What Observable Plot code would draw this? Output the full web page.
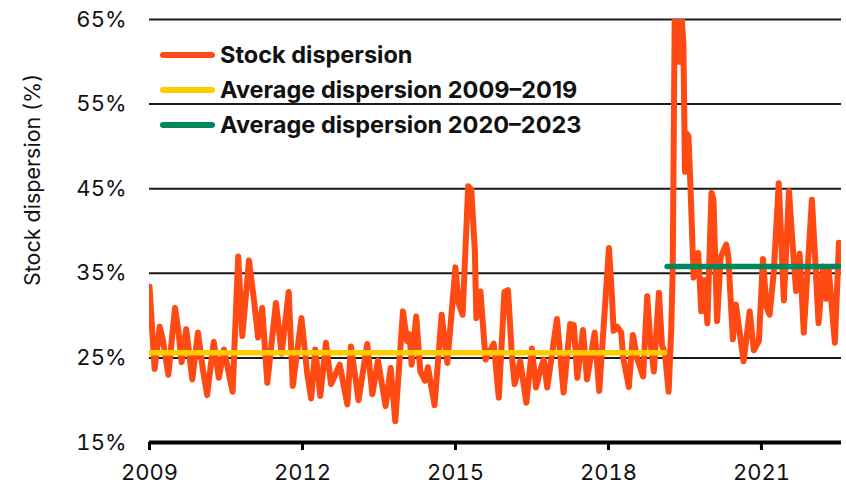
<!DOCTYPE html>
<html><head><meta charset="utf-8">
<script src="https://cdn.jsdelivr.net/npm/d3@7"></script>
<script src="https://cdn.jsdelivr.net/npm/@observablehq/plot@0.6"></script>
<style>
html,body{margin:0;padding:0;background:#fff;}
#wrap{position:relative;width:846px;height:485px;font-family:Inter,"Noto Sans",sans-serif;}
#legend{position:absolute;left:160px;top:37.5px;}
.row{display:flex;align-items:center;height:35px;}
.sw{width:55px;height:5.5px;border-radius:3px;margin-right:5px;flex:none;}
.lab{font-weight:700;font-size:23.5px;color:#111;white-space:nowrap;line-height:1;}
</style></head><body><div id="wrap"><div id="legend"></div></div>
<script>
// decimal year of each reading
const years = [2009.00,2009.10,2009.20,2009.26,2009.37,2009.50,2009.57,2009.63,2009.72,2009.84,2009.95,2010.05,2010.13,2010.26,2010.36,2010.46,2010.63,2010.74,2010.82,2010.95,2011.05,2011.13,2011.21,2011.31,2011.48,2011.59,2011.73,2011.81,2011.98,2012.09,2012.17,2012.25,2012.35,2012.46,2012.56,2012.73,2012.88,2012.95,2013.10,2013.27,2013.37,2013.48,2013.63,2013.73,2013.82,2013.97,2014.05,2014.10,2014.14,2014.23,2014.31,2014.40,2014.46,2014.59,2014.73,2014.84,2014.90,2015.00,2015.06,2015.14,2015.25,2015.31,2015.38,2015.41,2015.49,2015.59,2015.75,2015.85,2015.96,2016.03,2016.11,2016.16,2016.27,2016.39,2016.50,2016.58,2016.66,2016.73,2016.80,2016.99,2017.12,2017.25,2017.32,2017.39,2017.50,2017.58,2017.73,2017.82,2018.01,2018.07,2018.10,2018.17,2018.25,2018.29,2018.40,2018.48,2018.56,2018.68,2018.76,2018.82,2018.89,2018.99,2019.05,2019.11,2019.18,2019.23,2019.26,2019.30,2019.35,2019.39,2019.43,2019.47,2019.50,2019.54,2019.57,2019.61,2019.67,2019.76,2019.82,2019.88,2019.94,2020.02,2020.06,2020.13,2020.20,2020.31,2020.35,2020.44,2020.50,2020.65,2020.77,2020.85,2020.95,2021.03,2021.10,2021.16,2021.24,2021.34,2021.44,2021.54,2021.63,2021.68,2021.75,2021.83,2021.99,2022.06,2022.12,2022.21,2022.27,2022.32,2022.44,2022.52,2022.57];
// stock dispersion, %
const dispersion = [33.4,23.7,28.7,27.2,23.0,30.9,28.0,24.5,28.4,22.45,28.0,23.5,20.6,26.9,22.65,26.0,21.0,37.0,27.6,36.5,31.8,27.4,30.9,22.05,31.5,25.5,32.8,21.7,29.7,23.3,20.2,26.0,20.5,26.8,21.9,24.2,19.5,26.35,20.0,26.65,20.7,24.7,19.3,23.8,17.5,30.5,27.0,27.8,24.2,29.9,23.4,22.3,23.9,19.4,30.1,24.4,28.6,35.7,31.5,30.1,45.3,44.9,37.7,29.7,32.85,24.8,26.7,20.3,32.8,33.0,25.0,21.9,24.6,19.7,26.1,21.5,23.5,24.8,21.5,29.6,20.9,29.0,28.9,22.65,28.3,22.45,28.0,21.1,38.0,32.2,28.2,28.7,28.0,25.0,21.55,27.7,25.0,22.8,32.3,27.1,23.4,32.7,26.5,25.5,21.0,28.2,35.3,66,66,60,66,62,47,51.5,51.2,45,34.5,37.4,30.5,34.2,29.1,44.5,43.7,29.35,36.9,38.4,37,27.2,31.3,24.6,30.5,25.9,27.0,36.7,31,30.1,35,45.65,31.8,44.7,36.9,32.9,37.3,28.0,43.7,36,29.1,35.8,32,35.4,26.8,38.6,37.7];

const seriesNames = ["Stock dispersion","Average dispersion 2009\u20132019","Average dispersion 2020\u20132023"];
const seriesColors = ["#FF4A14","#FFCC00","#00875A"];
const avgStart = [2009, 2019.16];
const avgEnd = [2019.11, 2022.57];
const avgValue = [25.6, 35.8];

const xTicks = [2009, 2012, 2015, 2018, 2021];
const yTicks = [15, 25, 35, 45, 55, 65];
const yLabel = "Stock dispersion (%)";

const data = years.map((t, i) => ({t, v: dispersion[i]}));
const avgs = avgValue.map((v, i) => ({start: avgStart[i], end: avgEnd[i], v, c: seriesColors[i + 1]}));

const chart = Plot.plot({
  width: 846, height: 485,
  marginLeft: 149, marginRight: 5, marginTop: 19, marginBottom: 43,
  style: {fontFamily: "Inter, 'Noto Sans', sans-serif", fontSize: "22px", color: "#111", background: "#fff"},
  x: {type: "linear", domain: [2009, 2022.57]},
  y: {domain: [15, 65]},
  marks: [
    Plot.ruleY(yTicks.slice(1), {stroke: "#1a1a1a", strokeWidth: 2}),
    Plot.ruleY([15], {stroke: "#000", strokeWidth: 4}),
    Plot.axisY({ticks: yTicks, tickFormat: d => d + "%", tickSize: 0, tickPadding: 23, fontSize: 22, label: null}),
    Plot.axisX({ticks: xTicks, tickFormat: d => String(d), tickSize: 8, tickPadding: 14, strokeWidth: 3, stroke: "#000", fontSize: 22, label: null}),
    Plot.text([yLabel], {frameAnchor: "left", text: d => d, rotate: -90, dx: -116, dy: -51, fontSize: 21.5, textAnchor: "middle", fill: "#111"}),
    Plot.line(data, {x: "t", y: "v", stroke: seriesColors[0], strokeWidth: 6, strokeLinejoin: "round", strokeLinecap: "round", clip: "frame"}),
    Plot.ruleY(avgs, {y: "v", x1: "start", x2: "end", stroke: "c", strokeWidth: 5.5, strokeLinecap: "round", clip: "frame"})
  ]
});
const wrap = document.getElementById("wrap");
wrap.insertBefore(chart, wrap.firstChild);

const legend = document.getElementById("legend");
seriesNames.forEach((n, i) => {
  const row = document.createElement("div"); row.className = "row";
  const sw = document.createElement("div"); sw.className = "sw"; sw.style.background = seriesColors[i];
  const lab = document.createElement("div"); lab.className = "lab"; lab.textContent = n;
  row.appendChild(sw); row.appendChild(lab); legend.appendChild(row);
});
</script>
</body></html>
